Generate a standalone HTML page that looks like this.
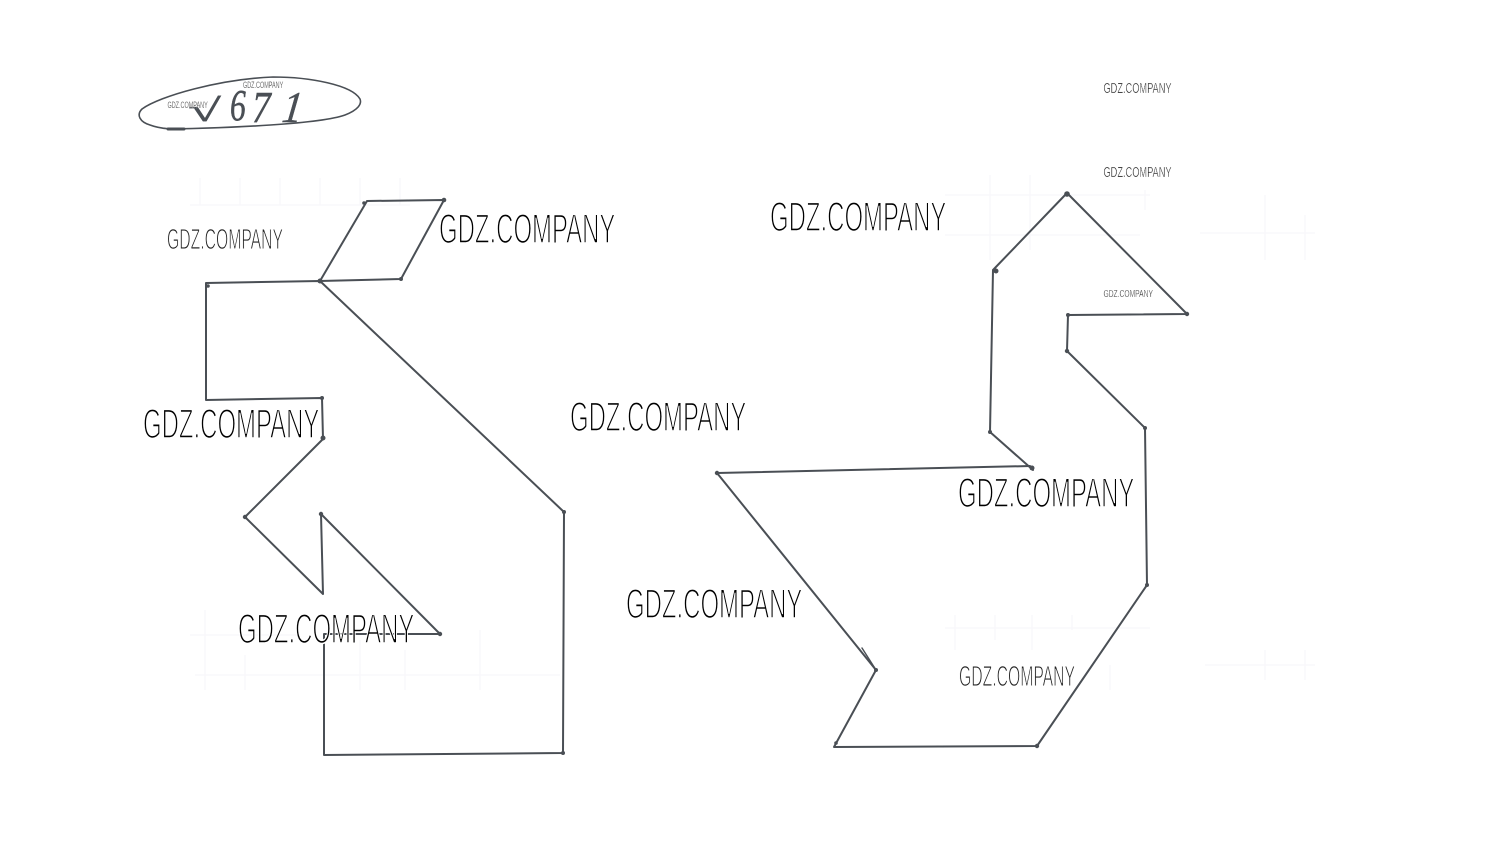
<!DOCTYPE html>
<html lang="en">
<head>
<meta charset="utf-8">
<title>GDZ.COMPANY</title>
<style>
html,body{margin:0;padding:0;background:#fff;width:1508px;height:865px;overflow:hidden}
svg{display:block}
.w{font-family:"Liberation Sans",sans-serif;fill:#000;stroke:#fff;stroke-width:1.6}
.g{font-family:"Liberation Sans",sans-serif;fill:#222;stroke:#fff;stroke-width:1}
.h{font-family:"Liberation Serif",serif;font-style:italic;fill:#4a4f55;stroke:#4a4f55;stroke-width:.5}
</style>
</head>
<body>
<svg width="1508" height="865" viewBox="0 0 1508 865" xmlns="http://www.w3.org/2000/svg">
<g stroke="#f9f8fb" stroke-width="1.5" fill="none">
<path d="M190 205H410M200 178V205M240 178V205M280 178V205M320 178V205M360 178V205M400 178V205"/>
<path d="M945 195H1150M945 235H1140M1200 233H1315M990 175V260M1030 175V250M1145 190V210M1265 195V260M1305 215V260"/>
<path d="M945 628H1150M955 615V650M995 615V640M1032 615V650M1072 615V630M1110 665V690M1205 665H1315M1265 650V680M1305 650V680"/>
<path d="M190 635H300M195 675H560M205 610V690M245 655V690M360 640V690M405 650V690M480 630V690"/>
</g>
<g fill="none" stroke="#4a4f55" stroke-width="2" stroke-linejoin="round" stroke-linecap="round">
<path d="M168 129C230 128 320 124 345 115C358 110 362 104 360 99C352 85 310 77 273 77C220 79 160 96 142 109C136 115 140 122 150 125C158 128 168 129 175 129" stroke-width="1.6"/>
<path d="M168 129H184" stroke-width="3"/>
<path d="M320 281L367 201L444 200L401 279L320 281"/>
<path d="M206 283L320 281L564 512L563 753L324 755L324 634L440 634L321 514L323 594L245 517L323 439L322 398L206 400Z"/>
<path d="M1067 193L1187 314L1068 315L1067 351L1145 428L1147 585L1037 746L834 747L876 670L717 473L1030 466"/>
<path d="M1067 193L993 270L990 432L1033 470"/>
<path d="M862 648L876 670" stroke-width="1.4"/>
</g>
<g fill="#4a4f55">
<circle cx="320" cy="281" r="2.5"/><circle cx="444" cy="200" r="2.3"/><circle cx="401" cy="279" r="2"/><circle cx="364" cy="203" r="1.8"/>
<circle cx="208" cy="286" r="1.8"/><circle cx="323" cy="438" r="2.5"/><circle cx="322" cy="398" r="2"/><circle cx="245" cy="517" r="2.2"/>
<circle cx="321" cy="514" r="2.2"/><circle cx="440" cy="634" r="2.2"/><circle cx="564" cy="512" r="2"/><circle cx="563" cy="753" r="2"/>
<circle cx="1067" cy="194" r="2.8"/><circle cx="1187" cy="314" r="2.2"/><circle cx="996" cy="271" r="2.5"/><circle cx="1068" cy="315" r="2"/>
<circle cx="1067" cy="351" r="2.2"/><circle cx="1145" cy="428" r="2"/><circle cx="1147" cy="585" r="2"/><circle cx="1037" cy="746" r="2.2"/>
<circle cx="836" cy="743" r="1.8"/><circle cx="876" cy="670" r="2"/><circle cx="717" cy="473" r="2.2"/><circle cx="1032" cy="468" r="2.5"/><circle cx="990" cy="432" r="2"/>
</g>
<g>
<text class="h" font-size="40" transform="translate(188,121) scale(1.5,.8)">√</text>
<text class="h" font-size="44" transform="translate(230,120) scale(.72,1)">6</text>
<text class="h" font-size="44" transform="translate(252,122) scale(.85,1)">7</text>
<text class="h" font-size="44" transform="translate(281,122) scale(.9,1) skewX(-8)">1</text>
</g>
<g font-size="42">
<text class="w" transform="translate(439,243) scale(.57,1)">GDZ.COMPANY</text>
<text class="w" transform="translate(143,438) scale(.57,1)">GDZ.COMPANY</text>
<text class="w" transform="translate(770,231) scale(.57,1)">GDZ.COMPANY</text>
<text class="w" transform="translate(570,431) scale(.57,1)">GDZ.COMPANY</text>
<text class="w" transform="translate(958,507) scale(.57,1)">GDZ.COMPANY</text>
<text class="w" transform="translate(626,618) scale(.57,1)">GDZ.COMPANY</text>
<text class="w" transform="translate(238,643) scale(.57,1)">GDZ.COMPANY</text>
<text class="g" transform="translate(167,249) scale(.375,.68)" style="stroke-width:1.4">GDZ.COMPANY</text>
<text class="g" transform="translate(959,686) scale(.375,.68)" style="stroke-width:1.4">GDZ.COMPANY</text>
<text class="g" transform="translate(1103.500,93) scale(.22,.36)" style="stroke-width:1">GDZ.COMPANY</text>
<text class="g" transform="translate(1103.500,177) scale(.22,.36)" style="stroke-width:1">GDZ.COMPANY</text>
<text class="g" transform="translate(1103.500,297) scale(.16,.24)" style="stroke-width:1">GDZ.COMPANY</text>
<text class="g" transform="translate(167.500,108) scale(.13,.21)" style="stroke-width:1">GDZ.COMPANY</text>
<text class="g" transform="translate(243,88) scale(.13,.21)" style="stroke-width:1">GDZ.COMPANY</text>
</g>
</svg>
</body>
</html>
